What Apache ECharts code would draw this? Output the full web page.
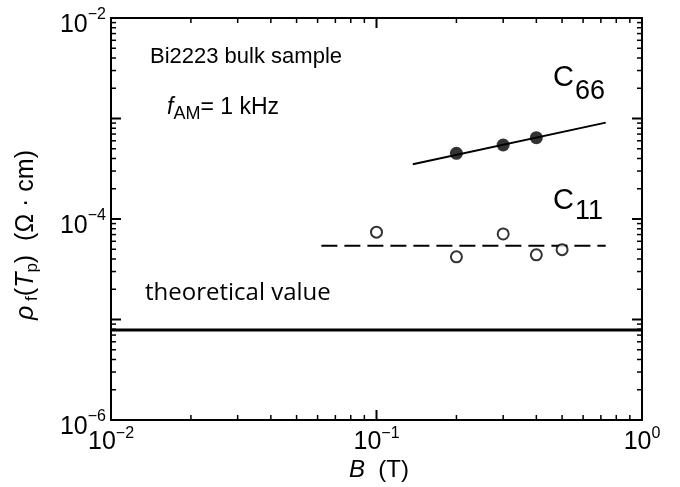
<!DOCTYPE html>
<html>
<head>
<meta charset="utf-8">
<script src="https://cdn.jsdelivr.net/npm/echarts@6/dist/echarts.min.js"></script>
<style>
  html, body { margin: 0; padding: 0; background: #fff; }
  #main { width: 680px; height: 487px; }
</style>
</head>
<body>
<div id="main"></div>
<script type="text/javascript">
    // C66: filled circles + fitted line
    var c66B = [0.2, 0.3, 0.4];
    var c66Rho = [4.5e-4, 5.45e-4, 6.45e-4];
    var c66FitB = [0.137, 0.73];
    var c66FitRho = [3.5e-4, 9.1e-4];

    // C11: open circles + dashed level
    var c11B = [0.1, 0.2, 0.3, 0.4, 0.5];
    var c11Rho = [7.4e-5, 4.2e-5, 7.1e-5, 4.4e-5, 4.95e-5];
    var c11FitB = [0.062, 0.73];
    var c11FitRho = [5.42e-5, 5.42e-5];

    // theoretical value
    var theoryB = [0.01, 1];
    var theoryRho = [7.87e-6, 7.87e-6];

    // tick positions (value, major?)
    var xMajor = [0.01, 0.1, 1];
    var yMajor = [1e-6, 1e-5, 1e-4, 1e-3, 1e-2];
    var yLabelExp = [-2, -4, -6];

    function pairs(a, b) {
        var out = [];
        for (var i = 0; i < a.length; i++) out.push([a[i], b[i]]);
        return out;
    }
    function minorTicks(majors) {
        var out = [];
        for (var i = 0; i < majors.length; i++) {
            out.push([majors[i], 1]);
            if (i < majors.length - 1) {
                for (var k = 2; k <= 9; k++) out.push([majors[i] * k, 0]);
            }
        }
        return out;
    }
    var xTicks = minorTicks(xMajor).map(function (t) { return [t[0], 1e-4, t[1]]; });
    var yTicks = minorTicks(yMajor).map(function (t) { return [0.1, t[0], t[1]]; });

    function expText(v) {
        var e = Math.round(Math.log(v) / Math.LN10);
        return e < 0 ? '\u2212' + (-e) : '' + e;
    }

    var FONT = 'Liberation Sans, Arial, sans-serif';

    var myChart = echarts.init(document.getElementById('main'));
    var option = {
        backgroundColor: '#fff',
        animation: false,
        grid: {
            left: 111, right: 38, top: 18, bottom: 67,
            show: true, borderColor: '#000', borderWidth: 2
        },
        xAxis: {
            type: 'log', logBase: 10, min: 0.01, max: 1, splitNumber: 2,
            axisLine: { show: false }, axisTick: { show: false }, splitLine: { show: false },
            axisLabel: {
                margin: 6, color: '#000', fontFamily: FONT,
                formatter: function (v) { return '{b|10}{s|' + expText(v) + '}'; },
                rich: {
                    b: { fontSize: 25, fontFamily: FONT, color: '#000' },
                    s: { fontSize: 16, fontFamily: FONT, color: '#000', padding: [0, 0, 16, 0] }
                }
            }
        },
        yAxis: {
            type: 'log', logBase: 10, min: 1e-6, max: 1e-2, splitNumber: 4,
            axisLine: { show: false }, axisTick: { show: false }, splitLine: { show: false },
            axisLabel: {
                margin: 5, color: '#000', fontFamily: FONT,
                formatter: function (v) {
                    var e = Math.round(Math.log(v) / Math.LN10);
                    if (yLabelExp.indexOf(e) < 0) return '';
                    return '{b|10}{s|' + expText(v) + '}';
                },
                rich: {
                    b: { fontSize: 25, fontFamily: FONT, color: '#000', padding: [14, 0, 0, 0] },
                    s: { fontSize: 16, fontFamily: FONT, color: '#000', padding: [0, 0, 6, 0] }
                }
            }
        },
        graphic: [
            { type: 'text', x: 150, y: 57, style: { text: 'Bi2223 bulk sample', font: '22px ' + FONT, fill: '#000', verticalAlign: 'middle' } },
            { type: 'text', x: 167, y: 108, style: {
                text: '{i|f}{s|AM}{n|= 1 kHz}', fill: '#000', verticalAlign: 'middle',
                rich: {
                    i: { fontSize: 23, fontFamily: FONT, fontStyle: 'italic' },
                    s: { fontSize: 18, fontFamily: FONT, padding: [12, 0, 0, 0] },
                    n: { fontSize: 23, fontFamily: FONT }
                }
            } },
            { type: 'text', x: 145, y: 293, style: { text: 'theoretical value', font: '24px "Open Sans", sans-serif', fill: '#000', verticalAlign: 'middle' } },
            { type: 'text', x: 553, y: 78, style: { text: 'C', font: '29px ' + FONT, fill: '#000', verticalAlign: 'middle' } },
            { type: 'text', x: 575, y: 92, style: { text: '66', font: '27px ' + FONT, fill: '#000', verticalAlign: 'middle' } },
            { type: 'text', x: 553, y: 201, style: { text: 'C', font: '29px ' + FONT, fill: '#000', verticalAlign: 'middle' } },
            { type: 'text', x: 575, y: 212, style: { text: '11', font: '27px ' + FONT, fill: '#000', verticalAlign: 'middle' } },
            { type: 'text', x: 379, y: 470, style: {
                text: '{i|B}{n|  (T)}', fill: '#000', align: 'center', verticalAlign: 'middle',
                rich: {
                    i: { fontSize: 24, fontFamily: FONT, fontStyle: 'italic' },
                    n: { fontSize: 24, fontFamily: FONT }
                }
            } },
            { type: 'text', x: 26, y: 235, rotation: Math.PI / 2, style: {
                text: '{i|\u03c1}{s| f}{n|(}{i|T}{s|p}{n|)  (\u03a9 \u00b7 cm)}', fill: '#000', align: 'center', verticalAlign: 'middle',
                rich: {
                    i: { fontSize: 25, fontFamily: FONT, fontStyle: 'italic' },
                    s: { fontSize: 17, fontFamily: FONT, padding: [13, 0, 0, 0] },
                    n: { fontSize: 25, fontFamily: FONT }
                }
            } }
        ],
        series: [
            {
                type: 'line', data: pairs(theoryB, theoryRho), showSymbol: false,
                lineStyle: { color: '#000', width: 3 }, silent: true
            },
            {
                type: 'line', data: pairs(c66FitB, c66FitRho), showSymbol: false,
                lineStyle: { color: '#000', width: 2 }, silent: true
            },
            {
                type: 'line', data: pairs(c11FitB, c11FitRho), showSymbol: false,
                lineStyle: { color: '#000', width: 2, type: [16, 7] }, silent: true
            },
            {
                type: 'scatter', data: pairs(c66B, c66Rho), symbol: 'circle', symbolSize: 13,
                itemStyle: { color: '#000' }, z: 5
            },
            {
                type: 'scatter', data: pairs(c11B, c11Rho), symbol: 'circle', symbolSize: 11,
                itemStyle: { color: '#fff', borderColor: '#000', borderWidth: 2 }, z: 5
            },
            {
                type: 'custom', data: xTicks, silent: true, z: 6,
                renderItem: function (params, api) {
                    var cs = params.coordSys;
                    var x = api.coord([api.value(0), 1e-4])[0];
                    var major = api.value(2) === 1;
                    var len = major ? 10 : 5;
                    var lw = major ? 2 : 1.5;
                    var bottom = cs.y + cs.height;
                    return { type: 'group', children: [
                        { type: 'line', shape: { x1: x, y1: bottom, x2: x, y2: bottom - len }, style: { stroke: '#000', lineWidth: lw } },
                        { type: 'line', shape: { x1: x, y1: cs.y, x2: x, y2: cs.y + len }, style: { stroke: '#000', lineWidth: lw } }
                    ] };
                }
            },
            {
                type: 'custom', data: yTicks, silent: true, z: 6,
                renderItem: function (params, api) {
                    var cs = params.coordSys;
                    var y = api.coord([0.1, api.value(1)])[1];
                    var major = api.value(2) === 1;
                    var len = major ? 10 : 5;
                    var lw = major ? 2 : 1.5;
                    var right = cs.x + cs.width;
                    return { type: 'group', children: [
                        { type: 'line', shape: { x1: cs.x, y1: y, x2: cs.x + len, y2: y }, style: { stroke: '#000', lineWidth: lw } },
                        { type: 'line', shape: { x1: right, y1: y, x2: right - len, y2: y }, style: { stroke: '#000', lineWidth: lw } }
                    ] };
                }
            }
        ]
    };
    myChart.setOption(option);
</script>
</body>
</html>
